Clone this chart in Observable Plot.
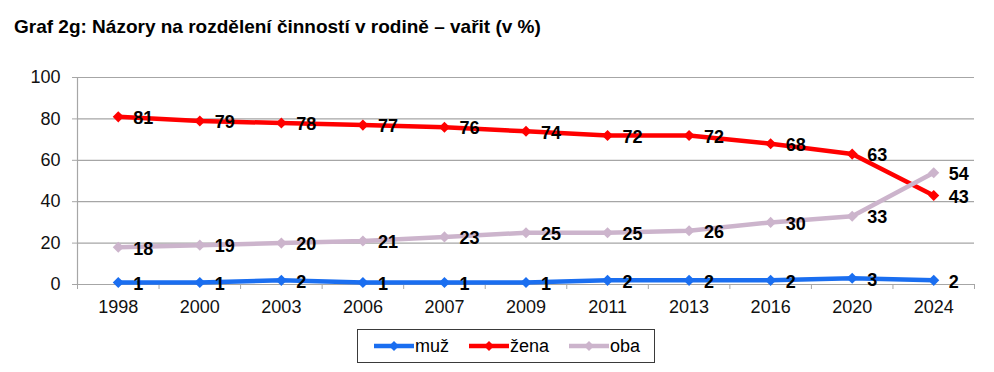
<!DOCTYPE html>
<html>
<head>
<meta charset="utf-8">
<script src="https://cdn.jsdelivr.net/npm/d3@7"></script>
<script src="https://cdn.jsdelivr.net/npm/@observablehq/plot@0.6"></script>
<style>
  html, body { margin: 0; padding: 0; background: #fff; }
  body { width: 994px; height: 372px; position: relative; overflow: hidden; font-family: "Liberation Sans", Arial, sans-serif; }
  #title { position: absolute; left: 14px; top: 16px; font-size: 19px; font-weight: bold; color: #000; white-space: nowrap; }
  #chart { position: absolute; left: 0; top: 50px; }
  #legend { position: absolute; left: 357px; top: 329px; width: 298px; height: 34px; box-sizing: border-box; border: 1px solid #3a3a3a; background: #fff; }
  .item { position: absolute; top: 0; height: 32px; display: flex; align-items: center; font-size: 18px; color: #000; }
  .item svg { display: block; margin-right: 1px; }
</style>
</head>
<body>
<div id="title">Graf 2g: Názory na rozdělení činností v rodině – vařit (v %)</div>
<div id="chart"></div>
<div id="legend"></div>
<script>
const years = ["1998","2000","2003","2006","2007","2009","2011","2013","2016","2020","2024"];
const muz  = [1, 1, 2, 1, 1, 1, 2, 2, 2, 3, 2];
const zena = [81, 79, 78, 77, 76, 74, 72, 72, 68, 63, 43];
const oba  = [18, 19, 20, 21, 23, 25, 25, 26, 30, 33, 54];
const seriesNames = ["muž", "žena", "oba"];
const seriesColors = ["#1a6ef0", "#ff0000", "#ccb4cc"];
const yTicks = [0, 20, 40, 60, 80, 100];

const seriesValues = [muz, zena, oba];
const data = [];
seriesNames.forEach((s, k) => {
  seriesValues[k].forEach((v, i) => data.push({ series: s, i, year: years[i], v }));
});
const idx = years.map((_, i) => i);
const edges = d3.range(years.length + 1).map(i => i - 0.5);

const gray = "#a6a6a6";
const chart = Plot.plot({
  width: 994,
  height: 280,
  marginTop: 27,
  marginBottom: 46,
  marginLeft: 77,
  marginRight: 20,
  style: { fontFamily: "'Liberation Sans', Arial, sans-serif", background: "transparent" },
  x: { type: "linear", domain: [-0.5, years.length - 0.5] },
  y: { domain: [0, 100] },
  color: { domain: seriesNames, range: seriesColors },
  marks: [
    Plot.ruleY(yTicks, { stroke: gray, strokeWidth: 1.2 }),
    Plot.axisY(yTicks, { tickSize: 5, tickPadding: 12, fontSize: 18, stroke: gray, color: "#111", label: null }),
    Plot.ruleX([-0.5], { stroke: gray, strokeWidth: 1.2, y1: 0, y2: 100 }),
    Plot.axisX(edges, { tickSize: 5, tickFormat: () => "", stroke: gray, label: null }),
    Plot.axisX(idx, { tickSize: 0, tickPadding: 16, tickFormat: i => years[i], fontSize: 18, color: "#111", label: null }),
    Plot.line(data, { x: "i", y: "v", z: "series", stroke: "series", strokeWidth: 4.5, strokeLinejoin: "round" }),
    Plot.dot(data, { x: "i", y: "v", fill: "series", symbol: "diamond2", r: 5, stroke: "none" }),
    Plot.text(data, { x: "i", y: "v", text: d => String(d.v), dx: 15, dy: 1.5, textAnchor: "start", fontSize: 18, fontWeight: "bold", fill: "#000" })
  ]
});
document.getElementById("chart").appendChild(chart);

// Legend
const legend = document.getElementById("legend");
const lefts = [16, 111, 211];
seriesNames.forEach((s, k) => {
  const item = document.createElement("div");
  item.className = "item";
  item.style.left = lefts[k] + "px";
  const c = seriesColors[k];
  item.innerHTML = `<svg width="40" height="12"><line x1="0" y1="6" x2="40" y2="6" stroke="${c}" stroke-width="4.5" stroke-linecap="round"/><path d="M20,1 L25,6 L20,11 L15,6 Z" fill="${c}"/></svg><span>${s}</span>`;
  legend.appendChild(item);
});
</script>
</body>
</html>
